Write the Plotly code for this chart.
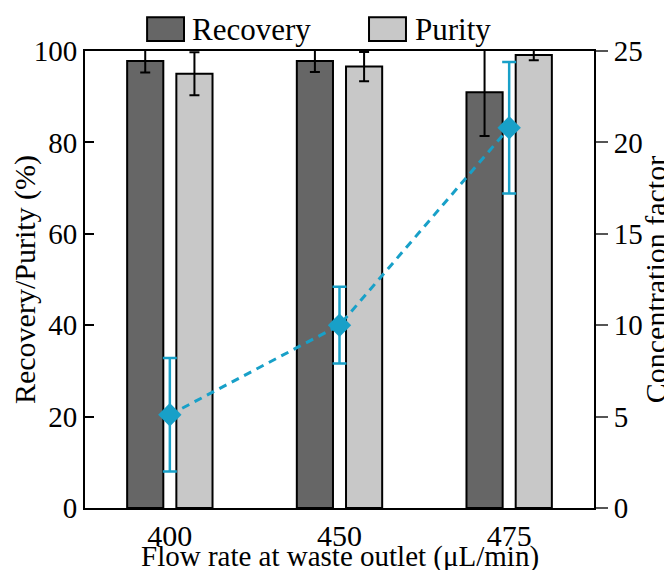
import plotly.graph_objects as go

categories = ["400", "450", "475"]
recovery = [97.8, 97.8, 91.0]
recovery_err = [2.5, 2.4, 9.6]
purity = [95.0, 96.6, 99.1]
purity_err = [4.7, 3.2, 1.1]
conc_factor = [5.1, 10.0, 20.8]
conc_err = [3.1, 2.1, 3.6]

left_ticks = [0, 20, 40, 60, 80, 100]
right_ticks = [0, 5, 10, 15, 20, 25]

FONT = "Liberation Serif"
CYAN = "#18a0c8"

fig = go.Figure()
fig.add_trace(go.Bar(
    x=categories, y=recovery, name="Recovery",
    marker=dict(color="#666666", line=dict(color="black", width=2)),
    error_y=dict(type="data", array=recovery_err, color="black", thickness=2, width=5),
    showlegend=False,
))
fig.add_trace(go.Bar(
    x=categories, y=purity, name="Purity",
    marker=dict(color="#c8c8c8", line=dict(color="black", width=2)),
    error_y=dict(type="data", array=purity_err, color="black", thickness=2, width=5),
    showlegend=False,
))
fig.add_trace(go.Scatter(
    x=categories, y=conc_factor, yaxis="y2", mode="lines+markers",
    line=dict(color=CYAN, width=3, dash="8px,6px"),
    marker=dict(symbol="diamond", size=18, color=CYAN),
    error_y=dict(type="data", array=conc_err, color=CYAN, thickness=2.5, width=7),
    showlegend=False,
))

fig.update_layout(
    width=664, height=562,
    margin=dict(l=77, r=78, t=43, b=62, autoexpand=False),
    paper_bgcolor="white", plot_bgcolor="white",
    font=dict(family=FONT, size=29, color="black"),
    barmode="group", bargap=0.42, bargroupgap=0.265,
    xaxis=dict(
        showline=True, linecolor="black", linewidth=2, mirror=True,
        ticks="", showgrid=False, tickfont=dict(size=30),
    ),
    yaxis=dict(
        range=[0, 100], tickvals=left_ticks, showline=True, linecolor="black", linewidth=2,
        ticks="inside", ticklen=9, tickwidth=2, tickcolor="black",
        showgrid=False, zeroline=False, tickfont=dict(size=29),
        title=dict(text="Recovery/Purity (%)", font=dict(size=30), standoff=4),
    ),
    yaxis2=dict(
        range=[0, 25], tickvals=right_ticks, overlaying="y", side="right",
        showline=True, linecolor="black", linewidth=2,
        ticks="outside", ticklen=12, tickwidth=1.5, tickcolor="#555555",
        showgrid=False, zeroline=False, tickfont=dict(size=29),
        title=dict(text="Concentration factor", font=dict(size=30), standoff=2),
    ),
)

# x-axis title placed as annotation just below the tick labels
fig.add_annotation(text="Flow rate at waste outlet (μL/min)", xref="paper", yref="paper",
                   x=0.5, y=-0.106, xanchor="center", yanchor="middle", showarrow=False,
                   font=dict(family=FONT, size=29, color="black"))

# Legend drawn as boxes + text above the plot
legend_items = [("Recovery", "#666666", 0.122, 0.1945, 0.207),
                ("Purity", "#c8c8c8", 0.558, 0.6306, 0.645)]
for label, color, x0, x1, xt in legend_items:
    fig.add_shape(type="rect", xref="paper", yref="paper", x0=x0, x1=x1, y0=1.022, y1=1.074,
                  fillcolor=color, line=dict(color="black", width=2))
    fig.add_annotation(text=label, xref="paper", yref="paper", x=xt, y=1.048,
                       xanchor="left", yanchor="middle", showarrow=False,
                       font=dict(family=FONT, size=31, color="black"))

fig.write_html("out.html")
